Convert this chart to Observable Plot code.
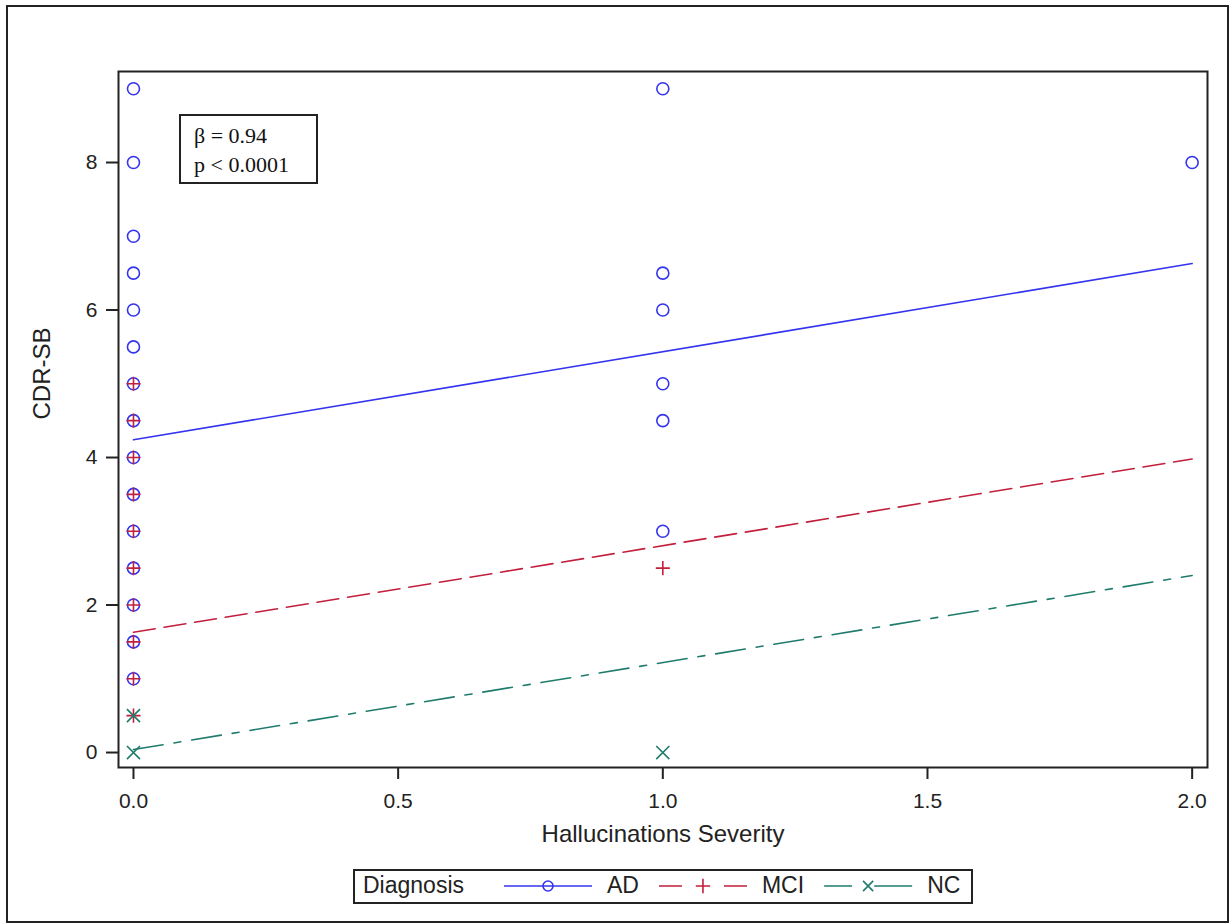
<!DOCTYPE html>
<html>
<head>
<meta charset="utf-8">
<script src="https://cdn.jsdelivr.net/npm/d3@7"></script>
<script src="https://cdn.jsdelivr.net/npm/@observablehq/plot@0.6"></script>
<style>
  html, body { margin: 0; padding: 0; background: #fff; }
  #wrap { position: relative; width: 1232px; height: 924px; background: #fff; overflow: hidden; }
  #outer { position: absolute; left: 6px; top: 5px; width: 1223px; height: 918px; box-sizing: border-box; border: 2px solid #222; pointer-events: none; }
  #note { position: absolute; left: 179px; top: 114px; width: 139px; height: 70px; box-sizing: border-box;
          border: 2px solid #222; background: #fff; padding: 5px 0 0 13px;
          font-family: "Liberation Serif", "Times New Roman", serif; font-size: 22px; line-height: 29px; color: #111; }
  #legend { position: absolute; left: 353px; top: 869px; }
</style>
</head>
<body>
<div id="wrap">
  <div id="chart"></div>
  <div id="outer"></div>
  <div id="note"></div>
  <svg id="legend" width="620" height="35"></svg>
</div>
<script>
// ---- data ----
const diagnoses = ["AD", "MCI", "NC"];
const severityAD = [0,0,0,0,0,0,0,0,0,0,0,0,0,0,0, 1,1,1,1,1,1, 2];
const cdrAD      = [9,8,7,6.5,6,5.5,5,4.5,4,3.5,3,2.5,2,1.5,1, 9,6.5,6,5,4.5,3, 8];
const severityMCI = [0,0,0,0,0,0,0,0,0,0, 1];
const cdrMCI      = [5,4.5,4,3.5,3,2.5,2,1.5,1,0.5, 2.5];
const severityNC = [0,0, 1];
const cdrNC      = [0.5,0, 0];
const fitSeverity = [0, 2];
const fitAD  = [4.24, 6.63];
const fitMCI = [1.63, 3.98];
const fitNC  = [0.04, 2.40];
const xTicks = [0, 0.5, 1, 1.5, 2];
const yTicks = [0, 2, 4, 6, 8];
const xLabel = "Hallucinations Severity";
const yLabel = "CDR-SB";
const legendTitle = "Diagnosis";
const annotation = ["β = 0.94", "p < 0.0001"];

// ---- styles ----
const colors = {AD: "#3434ee", MCI: "#c21f3d", NC: "#1f7c6c"};
const symbols = {AD: "circle", MCI: "plus", NC: "times"};
const symR = {AD: 6, MCI: 4.6, NC: 6};
const dash = {AD: null, MCI: "22,9", NC: "30,11,7,11"};

const pts = {
  AD: severityAD.map((s, i) => ({s, v: cdrAD[i]})),
  MCI: severityMCI.map((s, i) => ({s, v: cdrMCI[i]})),
  NC: severityNC.map((s, i) => ({s, v: cdrNC[i]}))
};
const fits = {
  AD: fitSeverity.map((s, i) => ({s, v: fitAD[i]})),
  MCI: fitSeverity.map((s, i) => ({s, v: fitMCI[i]})),
  NC: fitSeverity.map((s, i) => ({s, v: fitNC[i]}))
};

const marks = [
  Plot.frame({stroke: "#222", strokeWidth: 2}),
  Plot.axisX({ticks: xTicks, tickFormat: d3.format(".1f"), tickSize: 12, tickPadding: 14,
              label: null, fontSize: 21, stroke: "#222", strokeWidth: 2}),
  Plot.axisY({ticks: yTicks, tickFormat: d => String(d), tickSize: 12, tickPadding: 9,
              label: null, fontSize: 21, stroke: "#222", strokeWidth: 2}),
];
for (const g of diagnoses) {
  marks.push(Plot.line(fits[g], {x: "s", y: "v", stroke: colors[g], strokeWidth: 1.6,
    strokeDasharray: dash[g] || undefined}));
}
for (const g of diagnoses) {
  marks.push(Plot.dot(pts[g], {x: "s", y: "v", symbol: symbols[g], r: symR[g],
    stroke: colors[g], strokeWidth: 1.6, fill: "none"}));
}
marks.push(Plot.text([yLabel], {frameAnchor: "left", dx: -76, rotate: -90, fontSize: 24, fill: "#222"}));
marks.push(Plot.text([xLabel], {frameAnchor: "bottom", dy: 74, fontSize: 24, fill: "#222"}));

const chart = Plot.plot({
  width: 1232, height: 924,
  marginLeft: 118, marginRight: 25, marginTop: 71, marginBottom: 157,
  x: {domain: [-0.0283, 2.029]},
  y: {domain: [-0.203, 9.234]},
  style: {fontFamily: "'Liberation Sans', Arial, sans-serif", fontSize: "21px", color: "#222", background: "#fff"},
  marks
});
document.getElementById("chart").appendChild(chart);

// annotation box
d3.select("#note").selectAll("div").data(annotation).join("div").text(d => d);

// legend
const lg = d3.select("#legend");
const font = "'Liberation Sans', Arial, sans-serif";
lg.append("rect").attr("x", 1).attr("y", 1).attr("width", 618).attr("height", 33)
  .attr("fill", "#fff").attr("stroke", "#222").attr("stroke-width", 2);
let cx = 10;
const title = lg.append("text").attr("x", cx).attr("y", 24).attr("font-family", font)
  .attr("font-size", 23).attr("fill", "#222").text(legendTitle);
cx += title.node().getComputedTextLength() + 40;
const lineLen = 88;
const legendDash = {AD: null, MCI: "23,42,23", NC: "28,22,38"};
for (const g of diagnoses) {
  lg.append("line").attr("x1", cx).attr("x2", cx + lineLen).attr("y1", 17).attr("y2", 17)
    .attr("stroke", colors[g]).attr("stroke-width", 1.6)
    .attr("stroke-dasharray", legendDash[g]);
  const sym = {circle: d3.symbolCircle, plus: d3.symbolPlus, times: d3.symbolTimes}[symbols[g]];
  lg.append("path").attr("transform", `translate(${cx + lineLen / 2},17)`)
    .attr("d", d3.symbol(sym, symbols[g] === "circle" ? Math.PI * 25 : Math.PI * 22)())
    .attr("fill", "none").attr("stroke", colors[g]).attr("stroke-width", 1.6);
  cx += lineLen + 15;
  const t = lg.append("text").attr("x", cx).attr("y", 24).attr("font-family", font)
    .attr("font-size", 23).attr("fill", "#222").text(g);
  cx += t.node().getComputedTextLength() + 20;
}
</script>
</body>
</html>
